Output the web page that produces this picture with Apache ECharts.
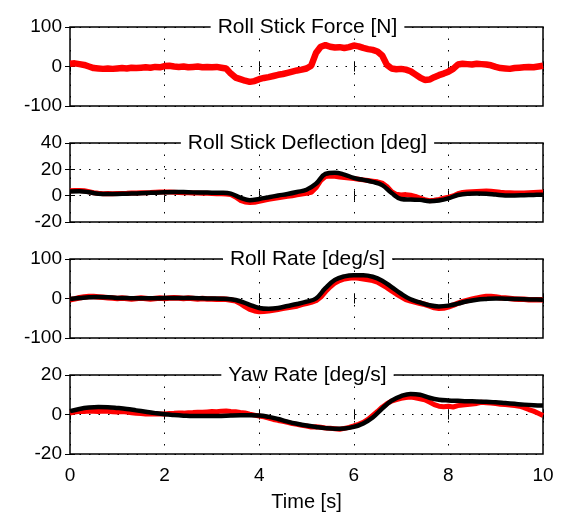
<!DOCTYPE html>
<html>
<head>
<meta charset="utf-8">
<script src="https://cdn.jsdelivr.net/npm/echarts@6/dist/echarts.min.js"></script>
<style>
html,body{margin:0;padding:0;background:#fff;}
#chart{width:561px;height:513px;}
</style>
</head>
<body>
<div id="chart"></div>
<script>
// ---- Data ----
var panelTitles = ['Roll Stick Force [N]', 'Roll Stick Deflection [deg]', 'Roll Rate [deg/s]', 'Yaw Rate [deg/s]'];
var xTicks = [0, 2, 4, 6, 8, 10];
var yRanges = [[-100, 100, 100], [-20, 40, 20], [-100, 100, 100], [-20, 20, 20]];

// measured (red) sampled every 0.1 s from 0 to 10 s
var forceMeas = [
 7, 8, 6, 4, 0, -4, -5, -6, -5, -6,
 -5, -4, -5, -3, -4, -3, -2, -3, -1, -2,
 1, 2, 0, -1, 0, -2, -1, 0, -2, -1,
 -2, -1, -3, -5, -18, -28, -32, -36, -39, -37,
 -32, -29, -27, -24, -21, -19, -16, -13, -10, -8,
 -5, 2, 34, 50, 54, 50, 48, 49, 47, 49,
 53, 51, 47, 44, 42, 38, 28, 4, -5, -7,
 -6, -8, -12, -20, -28, -34, -33, -27, -22, -18,
 -13, -6, 5, 7, 6, 5, 7, 6, 5, 3,
 -1, -4, -5, -6, -4, -3, -2, -1, -2, 0,
 2];
var deflMeas = [
 3.8, 4.0, 4.0, 3.8, 3.0, 2.2, 1.8, 1.5, 1.6, 1.5,
 1.6, 1.7, 1.8, 2.0, 2.1, 2.2, 2.3, 2.4, 2.6, 2.7,
 2.8, 2.8, 2.6, 2.4, 2.3, 2.2, 2.1, 2.0, 1.9, 1.8,
 1.6, 1.5, 1.4, 1.2, 0.8, -1.0, -3.5, -4.8, -5.2, -5.0,
 -4.2, -3.5, -2.8, -2.2, -1.6, -1.0, -0.5, 0.0, 0.6, 1.2,
 1.8, 2.5, 6.0, 11.5, 14.5, 15.0, 14.8, 14.2, 13.8, 13.4,
 13.0, 12.5, 12.0, 11.5, 11.0, 10.5, 9.5, 7.0, 3.0, 1.0,
 0.5, 0.8, 0.3, -0.5, -1.8, -3.0, -3.8, -3.5, -2.8, -2.0,
 -1.2, -0.2, 1.5, 2.4, 2.8, 3.0, 3.2, 3.4, 3.5, 3.3,
 3.0, 2.6, 2.3, 2.2, 2.1, 2.0, 2.1, 2.3, 2.5, 2.6,
 2.7];
var rollMeas = [
 -3, -1, 2, 4, 5, 5, 4, 3, 2, 1,
 0, 1, 0, -1, 0, 1, 0, -1, 0, 1,
 0, 1, 2, 1, 0, 1, 0, -1, 0, -1,
 -1, -2, -1, -2, -4, -6, -12, -20, -27, -31,
 -33, -32, -31, -29, -27, -25, -23, -21, -19, -15,
 -12, -9, -5, 4, 18, 30, 40, 46, 50, 52,
 53, 52, 50, 48, 46, 42, 35, 28, 20, 12,
 5, -2, -6, -9, -12, -15, -19, -23, -25, -24,
 -21, -17, -12, -8, -5, -2, 1, 3, 5, 5,
 4, 2, 1, 0, -1, -2, -2, -3, -3, -3,
 -3];
var yawMeas = [
 0.8, 1.2, 1.6, 1.5, 1.8, 1.7, 1.5, 1.8, 1.6, 1.4,
 1.3, 1.5, 1.2, 0.9, 0.6, 0.5, 0.3, 0.4, 0.2, 0.3,
 0.3, 0.5, 0.6, 0.8, 0.7, 0.9, 1.0, 1.2, 1.1, 1.3,
 1.5, 1.4, 1.7, 1.8, 1.5, 1.4, 1.0, 0.8, 0.2, -0.3,
 -0.8, -1.2, -1.8, -2.5, -3.0, -3.4, -4.0, -4.6, -5.0, -5.5,
 -5.8, -6.3, -6.2, -6.5, -6.8, -7.0, -7.2, -7.5, -7.0, -6.5,
 -5.8, -5.0, -4.0, -2.5, -0.5, 1.5, 3.7, 5.5, 6.8, 7.5,
 8.2, 8.6, 8.8, 8.5, 8.0, 7.5, 6.3, 5.0, 4.2, 3.9,
 4.2, 3.8, 4.5, 4.8, 5.0, 5.3, 5.6, 6.2, 6.0, 5.8,
 5.5, 5.2, 5.0, 4.8, 4.5, 4.2, 3.5, 2.5, 1.7, 0.6,
 -0.5];

// model (black) sampled every 0.2 s from 0 to 10 s
var deflModel = [
 3.2, 3.3, 2.6, 1.5, 1.2, 1.3, 1.5, 1.7, 2.0, 2.3,
 2.6, 2.8, 2.7, 2.5, 2.4, 2.3, 2.2, 1.5, -1.5, -3.5,
 -2.5, -1.2, 0.1, 1.3, 2.8, 4.5, 9.0, 16.5, 17.5, 16.0,
 13.5, 12.0, 10.5, 8.0, 2.0, -2.5, -3.0, -3.2, -4.2, -3.6,
 -2.0, 0.5, 1.5, 1.6, 1.4, 0.8, 0.2, 0.2, 0.4, 0.6,
 0.7];
var rollModel = [
 -1, 1, 3, 4, 3, 1.5, 1, 0.5, 0.5, 0.5,
 1, 1, 1, 1, 0.5, 0, -0.5, -2, -7, -16,
 -24, -26, -24, -19, -14, -8, 0, 26, 47, 56,
 59, 59, 55, 45, 29, 12, -2, -10, -17, -20,
 -18, -13, -7, -3, -1, 0, -0.5, -1, -2, -2.5,
 -3];
var yawModel = [
 1.7, 2.8, 3.5, 3.8, 3.7, 3.3, 2.8, 2.1, 1.4, 0.7,
 0.1, -0.3, -0.6, -0.8, -0.8, -0.8, -0.7, -0.5, -0.4, -0.4,
 -0.5, -1.2, -2.3, -3.6, -4.7, -5.6, -6.3, -6.9, -7.2, -7.1,
 -6.3, -4.5, -1.5, 3.0, 7.0, 9.3, 10.4, 10.0, 8.5, 7.5,
 7.1, 6.9, 6.7, 6.6, 6.4, 6.2, 5.8, 5.4, 5.0, 4.7,
 4.5];

// sample times
var tMeas = [];
for (var i = 0; i <= 100; i++) tMeas.push(+(i * 0.1).toFixed(1));
var tModel = [];
for (var j = 0; j <= 50; j++) tModel.push(+(j * 0.2).toFixed(1));

function pairs(ts, vs) { return vs.map(function (v, k) { return [ts[k], v]; }); }

// ---- Layout ----
var FONT = "'Liberation Sans', Arial, Helvetica, sans-serif";
var gridTops = [27, 143, 259, 375];
var gridH = 79;
var gridLeft = 70, gridRight = 18;
var W = 561;
var dotH = { color: '#000', width: 1, type: [1.5, 8] };
var dotV = { color: '#000', width: 1, type: [1.5, 10] };

var grids = [], xAxes = [], yAxes = [], series = [], graphics = [];
for (var g = 0; g < 4; g++) {
  grids.push({ left: gridLeft, right: gridRight, top: gridTops[g], height: gridH,
    show: true, borderColor: '#000', borderWidth: 1.5, backgroundColor: 'transparent' });
  var last = (g === 3);
  xAxes.push({ gridIndex: g, type: 'value', min: 0, max: 10, interval: 2, position: 'bottom',
    axisLine: { show: false },
    axisTick: { show: true, inside: true, length: 5, lineStyle: { color: '#000', width: 1 } },
    axisLabel: { show: last, color: '#000', fontSize: 19, fontFamily: FONT, margin: 12 },
    splitLine: { show: true, lineStyle: dotV },
    name: last ? 'Time [s]' : '', nameLocation: 'middle', nameGap: 38,
    nameTextStyle: { color: '#000', fontSize: 20, fontFamily: FONT }
  });
  xAxes.push({ gridIndex: g, type: 'value', min: 0, max: 10, interval: 2, position: 'top',
    axisLine: { show: false },
    axisTick: { show: true, inside: true, length: 5, lineStyle: { color: '#000', width: 1 } },
    axisLabel: { show: false }, splitLine: { show: false } });
  var r = yRanges[g];
  yAxes.push({ gridIndex: g, type: 'value', min: r[0], max: r[1], interval: r[2], position: 'left',
    axisLine: { show: false },
    axisTick: { show: true, inside: true, length: 5, lineStyle: { color: '#000', width: 1 } },
    axisLabel: { color: '#000', fontSize: 19, fontFamily: FONT, margin: 8 },
    splitLine: { show: true, lineStyle: dotH } });
  yAxes.push({ gridIndex: g, type: 'value', min: r[0], max: r[1], interval: r[2], position: 'right',
    axisLine: { show: false },
    axisTick: { show: true, inside: true, length: 5, lineStyle: { color: '#000', width: 1 } },
    axisLabel: { show: false }, splitLine: { show: false } });
  graphics.push({ type: 'text', z: 100, zlevel: 0,
    x: gridLeft + (W - gridLeft - gridRight) / 2 + 1, y: gridTops[g],
    style: { text: panelTitles[g], fill: '#000', font: '21px ' + FONT,
      textAlign: 'center', textVerticalAlign: 'middle', verticalAlign: 'middle',
      backgroundColor: '#fff', padding: [0, 7, 0, 7] } });
}

var measSets = [forceMeas, deflMeas, rollMeas, yawMeas];
var modelSets = [null, deflModel, rollModel, yawModel];
var redWidths = [6.5, 5, 5.5, 5];
for (var s = 0; s < 4; s++) {
  series.push({ type: 'line', xAxisIndex: 2 * s, yAxisIndex: 2 * s, data: pairs(tMeas, measSets[s]),
    showSymbol: false, symbol: 'none', lineStyle: { color: '#ff0000', width: redWidths[s] }, z: 3 });
  if (modelSets[s]) {
    series.push({ type: 'line', xAxisIndex: 2 * s, yAxisIndex: 2 * s, data: pairs(tModel, modelSets[s]),
      showSymbol: false, symbol: 'none', smooth: 0.4, lineStyle: { color: '#000', width: 4.5 }, z: 4 });
  }
}

var chart = echarts.init(document.getElementById('chart'), null, { renderer: 'canvas' });
chart.setOption({
  animation: false,
  backgroundColor: '#fff',
  textStyle: { fontFamily: FONT },
  grid: grids, xAxis: xAxes, yAxis: yAxes, series: series, graphic: graphics
});
</script>
</body>
</html>
